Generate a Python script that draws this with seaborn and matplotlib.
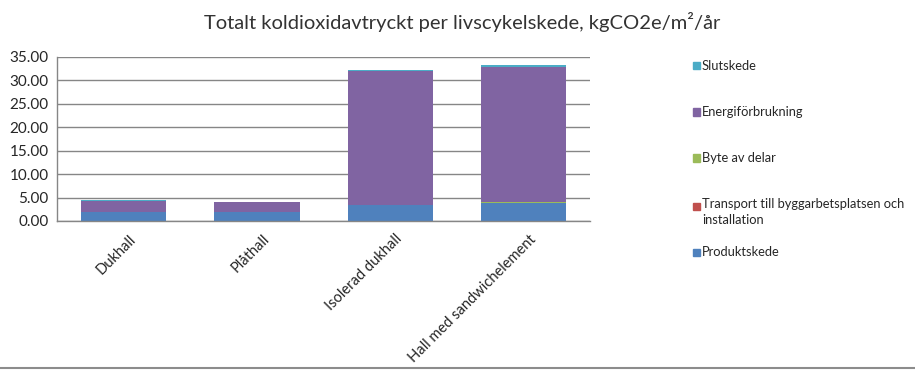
import matplotlib
matplotlib.use("Agg")
import matplotlib.pyplot as plt
import matplotlib.transforms as mtransforms
import numpy as np
import pandas as pd
import seaborn as sns
from matplotlib.lines import Line2D
from matplotlib.patches import Rectangle

categories = ["Dukhall", "Plåthall", "Isolerad dukhall", "Hall med sandwichelement"]
produktskede = [1.85, 1.85, 3.35, 3.90]
transport = [0.02, 0.02, 0.02, 0.02]
byte_av_delar = [0.03, 0.03, 0.10, 0.10]
energiforbrukning = [2.40, 2.10, 28.45, 28.95]
slutskede = [0.10, 0.10, 0.20, 0.30]

series_names = [
    "Produktskede",
    "Transport till byggarbetsplatsen och\ninstallation",
    "Byte av delar",
    "Energiförbrukning",
    "Slutskede",
]
series_values = [produktskede, transport, byte_av_delar, energiforbrukning, slutskede]
colors = ["#4F81BD", "#C0504D", "#9BBB59", "#8064A2", "#4BACC6"]
y_ticks = [0, 5, 10, 15, 20, 25, 30, 35]


def main():
    sns.set_style("white")
    plt.rcParams["font.family"] = ["Lato", "DejaVu Sans"]

    fig = plt.figure(figsize=(9.15, 3.75), dpi=100)
    ax = fig.add_axes([0.0623, 0.4107, 0.5827, 0.4373])

    bottom = np.zeros(len(categories))
    for name, vals, col in zip(series_names, series_values, colors):
        df = pd.DataFrame({"Hall": categories, "Value": vals})
        sns.barplot(data=df, x="Hall", y="Value", color=col, width=0.64,
                    bottom=bottom, ax=ax, saturation=1, linewidth=0,
                    errorbar=None)
        bottom = bottom + np.array(vals)

    ax.set_xlim(-0.5, 3.5)
    ax.set_ylim(0, 35)
    ax.set_yticks(y_ticks)
    ax.set_yticklabels([f"{v:.2f}" for v in y_ticks], fontsize=11)
    ax.set_xlabel("")
    ax.set_ylabel("")
    ax.yaxis.grid(True, color="#868686", linewidth=1)
    ax.set_axisbelow(True)
    ax.tick_params(axis="y", length=0, pad=6)
    ax.tick_params(axis="x", length=0, pad=8)
    shift = mtransforms.ScaledTranslation(5 / 100, 0, fig.dpi_scale_trans)
    for lab in ax.get_xticklabels():
        lab.set_rotation(45)
        lab.set_ha("right")
        lab.set_rotation_mode("anchor")
        lab.set_fontsize(10.5)
        lab.set_transform(lab.get_transform() + shift)
    for side in ["top", "right"]:
        ax.spines[side].set_visible(False)
    for side in ["left", "bottom"]:
        ax.spines[side].set_color("#868686")
        ax.spines[side].set_linewidth(1)

    fig.text(0.505, 0.94, "Totalt koldioxidavtryckt per livscykelskede, kgCO2e/m²/år",
             ha="center", va="center", fontsize=14.5, color="#333333")

    # legend, laid out like the original (top entry first)
    legend_y = [66, 112, 158, 206, 252]
    for ypix, name, col in zip(legend_y, series_names[::-1], colors[::-1]):
        yf = 1 - ypix / 375
        fig.patches.append(Rectangle((693 / 915, yf - 3.5 / 375), 7 / 915, 7 / 375,
                                     transform=fig.transFigure, color=col))
        if "\n" in name:
            fig.text(702 / 915, yf + 8 / 375, name, ha="left", va="top",
                     fontsize=9.3, linespacing=1.45)
        else:
            fig.text(702 / 915, yf, name, ha="left", va="center", fontsize=9.3)

    fig.add_artist(Line2D([0, 1], [0.019, 0.019], color="#8c8c8c", linewidth=1.5,
                          transform=fig.transFigure))

    fig.savefig("out.png", dpi=100)


if __name__ == "__main__":
    main()
